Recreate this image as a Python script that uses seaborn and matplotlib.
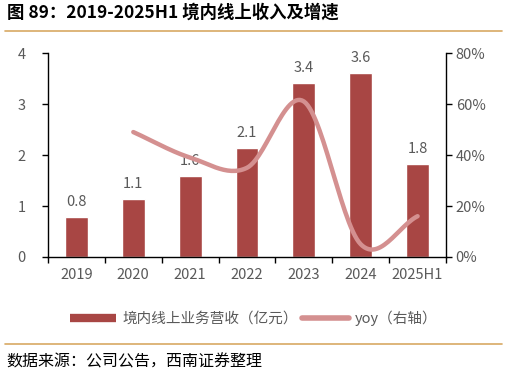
import matplotlib
matplotlib.use("Agg")
import matplotlib.pyplot as plt
from matplotlib.lines import Line2D
from matplotlib.ticker import FixedLocator, PercentFormatter
import seaborn as sns
import numpy as np
import pandas as pd

years = ["2019", "2020", "2021", "2022", "2023", "2024", "2025H1"]
revenue = [0.78, 1.14, 1.59, 2.14, 3.41, 3.60, 1.82]
yoy_years = ["2020", "2021", "2022", "2023", "2024", "2025H1"]
yoy = [49, 39, 35, 61, 5, 16]

BAR = "#a84644"
LINE = "#d49090"
GREY = "#595959"
GOLD = "#d8a964"

sns.set_theme(style="ticks")
plt.rcParams["font.family"] = ["Noto Sans CJK SC", "DejaVu Sans"]


def smooth(xs, ys, n=30):
    # catmull-rom, like the smoothed line option in excel
    xs = np.asarray(xs, float)
    ys = np.asarray(ys, float)
    px = np.concatenate([[2 * xs[0] - xs[1]], xs, [2 * xs[-1] - xs[-2]]])
    py = np.concatenate([[2 * ys[0] - ys[1]], ys, [2 * ys[-1] - ys[-2]]])
    ox, oy = [], []
    for i in range(1, len(px) - 2):
        t = np.linspace(0, 1, n)
        for p, out in ((px, ox), (py, oy)):
            p0, p1, p2, p3 = p[i - 1], p[i], p[i + 1], p[i + 2]
            out.extend(0.5 * (2 * p1 + (-p0 + p2) * t
                              + (2 * p0 - 5 * p1 + 4 * p2 - p3) * t ** 2
                              + (-p0 + 3 * p1 - 3 * p2 + p3) * t ** 3))
    return np.array(ox), np.array(oy)


df = pd.DataFrame({"year": years, "revenue": revenue})

fig = plt.figure(figsize=(5.07, 3.76), dpi=100)
ax = fig.add_axes([0.0947, 0.3165, 0.785, 0.5425])
sns.barplot(data=df, x="year", y="revenue", color=BAR, width=0.4,
            saturation=1, ax=ax)
ax.bar_label(ax.containers[0], fmt="%.1f", padding=6, fontsize=10.5,
             color=GREY)
ax.set_xlim(-0.5, len(years) - 0.5)
ax.set_ylim(0, 4)
ax.set_yticks([0, 1, 2, 3, 4])
ax.set_xlabel("")
ax.set_ylabel("")
ax.xaxis.set_minor_locator(FixedLocator(np.arange(-0.5, len(years), 1)))
ax.tick_params(axis="x", which="major", length=0, pad=8, labelsize=10.5,
               labelcolor=GREY)
ax.tick_params(axis="x", which="minor", length=4, width=1, color="black",
               direction="out")
ax.tick_params(axis="y", length=4, width=1, color="black", labelsize=10.5,
               labelcolor=GREY, pad=12)
for s in ["left", "bottom"]:
    ax.spines[s].set_color("black")
    ax.spines[s].set_linewidth(1)
ax.spines["top"].set_visible(False)
ax.spines["right"].set_visible(False)

ax2 = ax.twinx()
xi = [years.index(y) for y in yoy_years]
sx, sy = smooth(xi, yoy)
ax2.plot(sx, sy, color=LINE, lw=3.2, solid_capstyle="round")
ax2.set_ylim(0, 80)
ax2.set_yticks([0, 20, 40, 60, 80])
ax2.yaxis.set_major_formatter(PercentFormatter(decimals=0))
ax2.tick_params(axis="y", length=4, width=1, color="black", labelsize=10.5,
                labelcolor=GREY, pad=3)
ax2.spines["right"].set_color("black")
ax2.spines["right"].set_linewidth(1)
for s in ["top", "left", "bottom"]:
    ax2.spines[s].set_visible(False)
ax2.grid(False)

handles = [
    Line2D([0], [0], color=BAR, lw=6, solid_capstyle="butt"),
    Line2D([0], [0], color=LINE, lw=4, solid_capstyle="round"),
]
fig.legend(handles, ["境内线上业务营收（亿元）", "yoy（右轴）"],
           loc="center", bbox_to_anchor=(0.5, 1 - 318 / 376), ncol=2,
           frameon=False, fontsize=10.5, labelcolor=GREY,
           handlelength=3.2, handletextpad=0.4, columnspacing=0.3)

fig.text(7 / 507, 1 - 13 / 376, "图 89：2019-2025H1 境内线上收入及增速",
         fontsize=12.5, fontweight="bold", color="black", va="center")
fig.add_artist(Line2D([5 / 507, 502 / 507], [1 - 31 / 376] * 2,
                      color=GOLD, lw=1.2))
fig.add_artist(Line2D([5 / 507, 502 / 507], [1 - 344 / 376] * 2,
                      color=GOLD, lw=1.2))
fig.text(6 / 507, 1 - 362 / 376, "数据来源：公司公告，西南证券整理",
         fontsize=11.5, style="italic", color="black", va="center")

fig.savefig("out.png", dpi=100)
